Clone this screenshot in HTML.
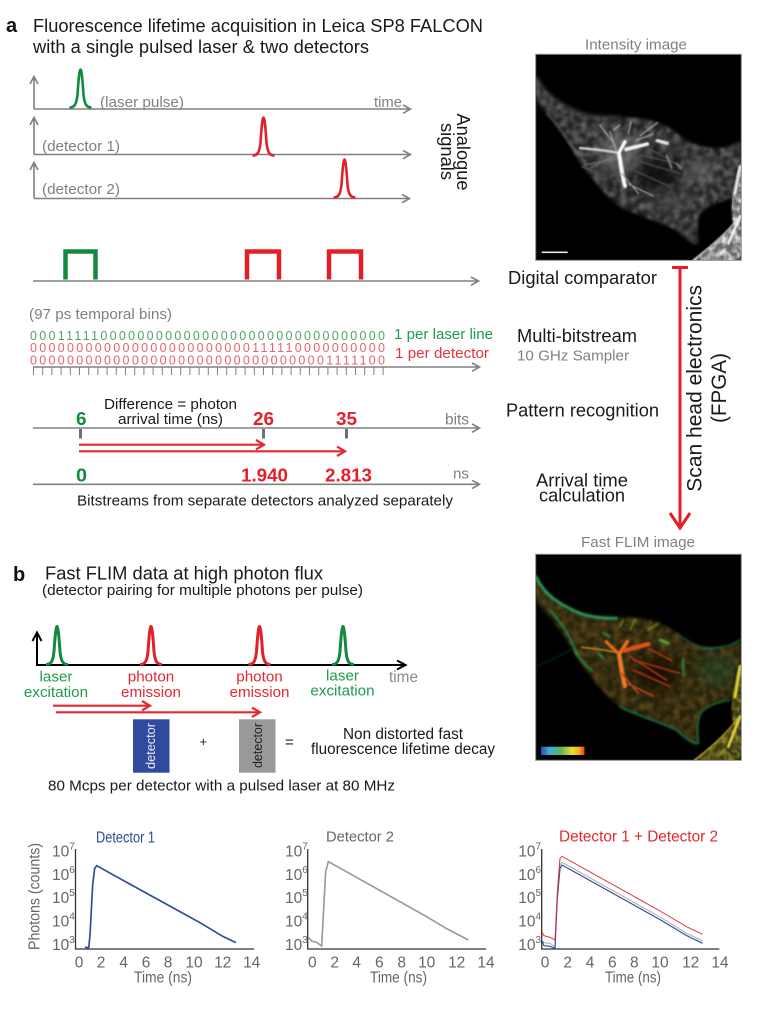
<!DOCTYPE html>
<html>
<head>
<meta charset="utf-8">
<style>
html,body{margin:0;padding:0;background:#fff;}
svg{display:block;}
text{font-family:"Liberation Sans",sans-serif;}
.g{fill:#808080}
.k{fill:#1a1a1a}
.t{fill:#666}
.b{font-weight:bold}
</style>
</head>
<body>
<svg xmlns="http://www.w3.org/2000/svg" width="767" height="1034" viewBox="0 0 767 1034">
<defs>
<filter id="bl1" x="-30%" y="-30%" width="160%" height="160%"><feGaussianBlur stdDeviation="2.6"/></filter>
<filter id="bl3" x="-30%" y="-30%" width="160%" height="160%"><feGaussianBlur stdDeviation="3"/></filter>
<filter id="bl6" x="-20%" y="-20%" width="140%" height="140%"><feGaussianBlur stdDeviation="6"/></filter>
<filter id="bl20" x="-60%" y="-60%" width="220%" height="220%"><feGaussianBlur stdDeviation="20"/></filter>
<filter id="tex" x="0" y="0" width="100%" height="100%">
<feTurbulence type="fractalNoise" baseFrequency="0.05" numOctaves="2" seed="4" result="n"/>
<feColorMatrix in="n" type="matrix" values="0 0 0 0 0 0 0 0 0 0 0 0 0 0 0 2.4 0 0 0 -0.85" result="a"/>
<feComposite in="SourceGraphic" in2="a" operator="in"/>
</filter>
<clipPath id="ca"><rect x="48" y="74" width="615" height="616"/></clipPath>
<path id="cell" d="M48 140 C70 190,110 220,180 250 C230 265,260 262,300 262 C360 262,420 270,470 310 C510 340,540 355,600 355 C630 352,650 340,663 330 L663 390 C640 440,640 480,640 500 C610 515,570 520,545 545 C530 565,530 600,535 640 C520 650,490 620,470 600 C420 575,360 560,300 530 C250 490,210 440,170 380 C140 330,110 280,80 250 C60 230,48 215,48 200 Z"/>
<path id="rc" d="M663 395 L663 690 L520 690 C560 660,610 620,640 585 C630 530,635 470,663 395 Z"/>
<path id="pk" fill="none" d="M-11 0 C-6 0 -4 -3 -3 -13 C-2 -28 -1 -38 0 -38 C1 -38 2 -28 3 -13 C4 -3 6 0 11 0"/>
</defs>

<!-- PANEL A heading -->
<text x="6" y="32" font-size="20" class="b" fill="#111">a</text>
<text x="33" y="32" font-size="18.2" textLength="450" lengthAdjust="spacingAndGlyphs" class="k">Fluorescence lifetime acquisition in Leica SP8 FALCON</text>
<text x="33" y="53" font-size="18.2" textLength="336" lengthAdjust="spacingAndGlyphs" class="k">with a single pulsed laser &amp; two detectors</text>

<!-- analogue axes -->
<g fill="none" stroke="#808080" stroke-width="1.6">
<path d="M34 109 H410 M403 105 L410.5 109 L403 113.3"/>
<path d="M34 109 V77 M30 84 L34 76.5 L38 84"/>
<path d="M34 154.5 H410 M403 150.5 L410.5 154.5 L403 158.8"/>
<path d="M34 154.5 V118 M30 125 L34 117.5 L38 125"/>
<path d="M34 198.5 H409 M402 194.5 L409.5 198.5 L402 202.8"/>
<path d="M34 198.5 V163 M30 170 L34 162.5 L38 170"/>
<path d="M33 281 H478 M471 277 L478.5 281 L471 285.3"/>
</g>
<use href="#pk" transform="translate(80.5,107.5)" stroke="#12893f" stroke-width="2.6"/>
<use href="#pk" transform="translate(263.5,155.5)" stroke="#e3202a" stroke-width="2.6"/>
<use href="#pk" transform="translate(344.5,197.5)" stroke="#e3202a" stroke-width="2.6"/>
<text x="100" y="107" font-size="15.2" textLength="84" lengthAdjust="spacingAndGlyphs" class="g">(laser pulse)</text>
<text x="374" y="107" font-size="15.2" textLength="28" lengthAdjust="spacingAndGlyphs" class="g">time</text>
<text x="42" y="151" font-size="15.2" textLength="78" lengthAdjust="spacingAndGlyphs" class="g">(detector 1)</text>
<text x="42" y="194" font-size="15.2" textLength="78" lengthAdjust="spacingAndGlyphs" class="g">(detector 2)</text>
<text transform="translate(457,113.5) rotate(90)" font-size="18.2" textLength="77" lengthAdjust="spacingAndGlyphs" class="k">Analogue</text>
<text transform="translate(441,123) rotate(90)" font-size="18.2" textLength="57" lengthAdjust="spacingAndGlyphs" class="k">signals</text>

<!-- digital pulses -->
<g fill="none" stroke-width="4.5">
<path d="M65.5 279.5 V251.5 H95.5 V279.5" stroke="#12893f"/>
<path d="M247 279.5 V251.5 H279 V279.5" stroke="#e3202a"/>
<path d="M329 279.5 V251.5 H361 V279.5" stroke="#e3202a"/>
</g>

<!-- bitstreams -->
<text x="29" y="319" font-size="14.5" textLength="143" lengthAdjust="spacingAndGlyphs" class="g">(97 ps temporal bins)</text>
<text x="30" y="340" font-size="12.5" textLength="355" lengthAdjust="spacing" fill="#4ea56c">000111110000000000000000000000000000000</text>
<text x="30" y="352" font-size="12.5" textLength="355" lengthAdjust="spacing" fill="#e4656b">000000000000000000000000111110000000000</text>
<text x="30" y="364.5" font-size="12.5" textLength="355" lengthAdjust="spacing" fill="#e4656b">000000000000000000000000000000001111100</text>
<text x="394" y="339" font-size="15.1" textLength="99" lengthAdjust="spacingAndGlyphs" fill="#1f9a50">1 per laser line</text>
<text x="395" y="358" font-size="15.2" textLength="94" lengthAdjust="spacingAndGlyphs" fill="#e3343c">1 per detector</text>
<path d="M33 367 H479 M472 363 L479.5 367 L472 371.3" fill="none" stroke="#808080" stroke-width="1.6"/>
<path fill="none" stroke="#808080" stroke-width="1" d="M33.5 367V375M42.7 367V375M51.9 367V375M61.1 367V375M70.3 367V375M79.5 367V375M88.7 367V375M97.9 367V375M107.1 367V375M116.3 367V375M125.5 367V375M134.7 367V375M143.9 367V375M153.1 367V375M162.3 367V375M171.5 367V375M180.7 367V375M189.9 367V375M199.1 367V375M208.3 367V375M217.5 367V375M226.7 367V375M235.9 367V375M245.1 367V375M254.3 367V375M263.5 367V375M272.7 367V375M281.9 367V375M291.1 367V375M300.3 367V375M309.5 367V375M318.7 367V375M327.9 367V375M337.1 367V375M346.3 367V375M355.5 367V375M364.7 367V375M373.9 367V375M383.1 367V375"/>

<!-- pattern recognition -->
<text x="104" y="409" font-size="15.2" textLength="133" lengthAdjust="spacingAndGlyphs" class="k">Difference = photon</text>
<text x="118" y="424" font-size="15.2" textLength="105" lengthAdjust="spacingAndGlyphs" class="k">arrival time (ns)</text>
<path d="M33 428 H479 M472 424 L479.5 428 L472 432.3" fill="none" stroke="#808080" stroke-width="1.6"/>
<path d="M80.5 429 V438.5 M263.5 429 V438.5 M346.5 429 V438.5" fill="none" stroke="#707070" stroke-width="3"/>
<text x="76" y="425" font-size="18.8" class="b" fill="#12893f" textLength="10.5" lengthAdjust="spacingAndGlyphs">6</text>
<text x="253" y="425" font-size="18.8" class="b" fill="#e3202a" textLength="21" lengthAdjust="spacingAndGlyphs">26</text>
<text x="336" y="425" font-size="18.8" class="b" fill="#e3202a" textLength="21" lengthAdjust="spacingAndGlyphs">35</text>
<text x="445" y="424.7" font-size="15.3" textLength="24" lengthAdjust="spacingAndGlyphs" class="g">bits</text>
<g fill="none" stroke="#e3282f" stroke-width="2.2">
<path d="M79 444.7 H263 M256 440 L264 444.7 L256 449.4"/>
<path d="M79 451.3 H344 M337 446.6 L345 451.3 L337 456"/>
</g>
<text x="76" y="481.7" font-size="18.8" class="b" fill="#12893f" textLength="11" lengthAdjust="spacingAndGlyphs">0</text>
<text x="241" y="481.7" font-size="18.8" class="b" fill="#e3202a" textLength="47" lengthAdjust="spacingAndGlyphs">1.940</text>
<text x="325" y="481.7" font-size="18.8" class="b" fill="#e3202a" textLength="47" lengthAdjust="spacingAndGlyphs">2.813</text>
<text x="453" y="478.7" font-size="15" textLength="16" lengthAdjust="spacingAndGlyphs" class="g">ns</text>
<path d="M33 484.3 H479 M472 480.3 L479.5 484.3 L472 488.6" fill="none" stroke="#808080" stroke-width="1.6"/>
<text x="77" y="505.7" font-size="15.2" textLength="376" lengthAdjust="spacingAndGlyphs" class="k">Bitstreams from separate detectors analyzed separately</text>

<!-- right labels -->
<text x="508" y="284" font-size="18.3" textLength="149" lengthAdjust="spacingAndGlyphs" class="k">Digital comparator</text>
<text x="517" y="342" font-size="18.3" textLength="120" lengthAdjust="spacingAndGlyphs" class="k">Multi-bitstream</text>
<text x="517" y="360.7" font-size="15.2" textLength="112" lengthAdjust="spacingAndGlyphs" class="g">10 GHz Sampler</text>
<text x="506" y="416.7" font-size="18.3" textLength="153" lengthAdjust="spacingAndGlyphs" class="k">Pattern recognition</text>
<text x="536" y="486.7" font-size="18.3" textLength="92" lengthAdjust="spacingAndGlyphs" class="k">Arrival time</text>
<text x="539" y="501.3" font-size="18.3" textLength="86" lengthAdjust="spacingAndGlyphs" class="k">calculation</text>
<path d="M672 267.5 H688 M680 267.5 V527 M670 513 L680 528 L690 513" fill="none" stroke="#e01f2b" stroke-width="3"/>
<text transform="translate(701.7,491.7) rotate(-90)" font-size="21" textLength="206.7" lengthAdjust="spacingAndGlyphs" class="k">Scan head electronics</text>
<text transform="translate(726,423) rotate(-90)" font-size="21" textLength="70" lengthAdjust="spacingAndGlyphs" class="k">(FPGA)</text>

<!-- intensity image -->
<text x="585" y="49.3" font-size="15.2" textLength="102" lengthAdjust="spacingAndGlyphs" class="g">Intensity image</text>
<rect x="535.7" y="54.3" width="205.6" height="206" fill="#000" stroke="#8a8a8a" stroke-width="1"/>
<g transform="translate(520,30) scale(0.33333)" clip-path="url(#ca)">
 <use href="#cell" fill="#242424" filter="url(#bl6)"/>
 <g filter="url(#bl3)"><use href="#cell" fill="#666" filter="url(#tex)"/></g>
 <ellipse cx="410" cy="430" rx="70" ry="55" fill="#0c0c0c" opacity=".85" filter="url(#bl20)"/>
 <ellipse cx="540" cy="420" rx="45" ry="32" fill="#6a6a6a" opacity=".7" filter="url(#bl20)"/>
 <ellipse cx="450" cy="520" rx="70" ry="30" fill="#484848" opacity=".6" filter="url(#bl20)"/>
 <ellipse cx="300" cy="370" rx="60" ry="60" fill="#8a8a8a" opacity=".5" filter="url(#bl20)"/>
 <path d="M48 140 C70 190,110 220,180 250 C230 265,260 262,300 262" fill="none" stroke="#555" stroke-width="6" filter="url(#bl6)"/>
 <path d="M170 370 C130 310,105 275,80 250" fill="none" stroke="#555" stroke-width="5" filter="url(#bl3)"/>
 <g filter="url(#bl3)"><use href="#rc" fill="#6a6a6a"/></g>
 <use href="#rc" fill="#fff" filter="url(#tex)" opacity=".8"/>
 <g fill="none" stroke-linecap="round" filter="url(#bl1)">
  <path d="M292 368 C250 360,220 358,180 354" stroke-width="7" stroke="#d8d8d8"/>
  <path d="M290 365 L270 305 M285 345 L240 285" stroke-width="4" stroke="#a5a5a5"/>
  <path d="M295 372 L315 335" stroke-width="10" stroke="#fff"/>
  <path d="M318 358 L382 342" stroke-width="11" stroke="#f2f2f2"/>
  <path d="M298 375 C303 410,307 440,315 468" stroke-width="12" stroke="#fafafa"/>
  <path d="M292 372 L215 412 M290 385 L195 405" stroke-width="3" stroke="#777"/>
  <path d="M325 462 L400 498 M305 430 L355 490" stroke-width="4" stroke="#999"/>
  <path d="M325 310 L333 275 M360 318 L412 278 M350 330 L400 312 M280 300 L300 285" stroke-width="4" stroke="#aaa"/>
  <path d="M385 355 L455 392 M340 390 L480 430 M340 420 L450 470 M360 375 L470 400" stroke-width="3.5" stroke="#555"/>
  <path d="M412 332 L442 340" stroke-width="10" stroke="#e4e4e4"/>
  <path d="M440 375 L455 415 M470 400 L482 415" stroke-width="5" stroke="#8a8a8a"/>
  <path d="M150 340 L195 395 M185 410 L215 420" stroke-width="3" stroke="#666"/>
  <path d="M520 690 C560 660,610 620,655 565" stroke-width="4" stroke="#e0e0e0"/>
  <path d="M625 640 L660 560" stroke-width="8" stroke="#f4f4f4"/>
  <path d="M645 490 L660 410" stroke-width="9" stroke="#e6e6e6"/>
 </g>
</g>
<rect x="541.7" y="251.5" width="26" height="1.6" fill="#e8e8e8"/>

<!-- FLIM image -->
<text x="581" y="547" font-size="15.2" textLength="114" lengthAdjust="spacingAndGlyphs" class="g">Fast FLIM image</text>
<rect x="535.7" y="554.3" width="205.6" height="206" fill="#000" stroke="#8a8a8a" stroke-width="1"/>
<g transform="translate(520,530) scale(0.33333)" clip-path="url(#ca)">
 <use href="#cell" fill="#262210" filter="url(#bl6)"/>
 <g filter="url(#bl3)"><use href="#cell" fill="#5c4618" filter="url(#tex)"/></g>
 <ellipse cx="410" cy="430" rx="70" ry="55" fill="#180b03" opacity=".85" filter="url(#bl20)"/>
 <ellipse cx="590" cy="420" rx="55" ry="50" fill="#1d4a2c" opacity=".55" filter="url(#bl20)"/>
 <g fill="none" stroke-linecap="round" filter="url(#bl3)">
  <path d="M48 140 C70 190,110 220,180 250 C215 262,250 265,290 265" stroke="#2aa868" stroke-width="8"/>
  <path d="M90 240 C130 285,150 320,170 370 C185 395,200 410,215 420" stroke="#24985a" stroke-width="5"/>
  <path d="M300 530 C360 560,420 575,470 600 C490 620,520 640,530 640" stroke="#1c8850" stroke-width="4.5"/>
  <path d="M535 640 C530 600,530 565,545 545 C565 525,600 515,630 510" stroke="#1c8e56" stroke-width="4"/>
  <path d="M545 355 C580 358,630 352,660 330" stroke="#1c8052" stroke-width="4"/>
  <path d="M470 310 C510 340,530 350,550 355" stroke="#186c40" stroke-width="3"/>
  <path d="M48 410 C80 395,110 385,150 360" stroke="#124026" stroke-width="3"/>
  <path d="M420 330 L445 340" stroke="#62b83c" stroke-width="8"/>
  <path d="M490 385 L490 440 M235 370 L250 385 M250 310 L270 320" stroke="#2e9c58" stroke-width="5"/>
  <path d="M330 300 L345 270 M385 300 L415 280 M300 290 L310 270" stroke="#8fae2c" stroke-width="4"/>
 </g>
 <g fill="none" stroke-linecap="round" filter="url(#bl1)">
  <path d="M292 368 C250 358,220 356,185 352" stroke="#a98020" stroke-width="5"/>
  <path d="M295 370 L258 335" stroke="#ee6a1a" stroke-width="9"/>
  <path d="M298 372 L322 335" stroke="#f0701c" stroke-width="11"/>
  <path d="M312 362 L385 342" stroke="#e2501c" stroke-width="13"/>
  <path d="M298 375 C303 410,307 440,315 468" stroke="#ee7a20" stroke-width="13"/>
  <path d="M325 462 L400 498 M305 430 L355 490" stroke="#b8481a" stroke-width="5"/>
  <path d="M385 355 L455 392 M340 390 L480 430 M340 420 L450 470 M330 380 L440 450" stroke="#a83412" stroke-width="5"/>
 </g>
 <g filter="url(#bl3)"><use href="#rc" fill="#3e3a12"/></g>
 <use href="#rc" fill="#c9bc30" filter="url(#tex)" opacity=".55"/>
 <g fill="none" stroke-linecap="round" filter="url(#bl1)">
  <path d="M525 690 C565 660,610 620,655 565" stroke="#b8a62a" stroke-width="4"/>
  <path d="M625 650 L660 560" stroke="#e6d640" stroke-width="8"/>
  <path d="M645 500 L660 410" stroke="#d8cc38" stroke-width="10"/>
 </g>
</g>
<linearGradient id="cb" x1="0" x2="1" y1="0" y2="0">
<stop offset="0" stop-color="#2a4fa8"/><stop offset=".2" stop-color="#38b0e0"/><stop offset=".45" stop-color="#57b45a"/><stop offset=".72" stop-color="#e8e02e"/><stop offset=".88" stop-color="#f6a820"/><stop offset="1" stop-color="#e8381c"/>
</linearGradient>
<rect x="541" y="746.7" width="43.5" height="8.3" fill="url(#cb)"/>

<!-- PANEL B -->
<text x="13" y="581" font-size="20" class="b" fill="#111">b</text>
<text x="45" y="579.3" font-size="18.3" textLength="278" lengthAdjust="spacingAndGlyphs" class="k">Fast FLIM data at high photon flux</text>
<text x="42" y="595" font-size="15.2" textLength="321" lengthAdjust="spacingAndGlyphs" class="k">(detector pairing for multiple photons per pulse)</text>
<path d="M36 665 H405 M397 660.5 L405.5 665 L397 669.5 M37 665 V633.5 M32.5 641 L37 632.5 L41.5 641" fill="none" stroke="#000" stroke-width="2"/>
<use href="#pk" transform="translate(57,664.5)" stroke="#12893f" stroke-width="3"/>
<use href="#pk" transform="translate(151,664.5)" stroke="#e3202a" stroke-width="3"/>
<use href="#pk" transform="translate(259.5,664.5)" stroke="#e3202a" stroke-width="3"/>
<use href="#pk" transform="translate(343,664.5)" stroke="#12893f" stroke-width="3"/>
<g font-size="15.2" text-anchor="middle">
<text x="56" y="681.7" fill="#1f9a50">laser</text>
<text x="56" y="697" fill="#1f9a50">excitation</text>
<text x="151" y="681.7" fill="#e3282f">photon</text>
<text x="151" y="697" fill="#e3282f">emission</text>
<text x="259.5" y="681.7" fill="#e3282f">photon</text>
<text x="259.5" y="697" fill="#e3282f">emission</text>
<text x="342.5" y="680.5" fill="#1f9a50">laser</text>
<text x="342.5" y="695.5" fill="#1f9a50">excitation</text>
</g>
<text x="389" y="682" font-size="15.3" textLength="29" lengthAdjust="spacingAndGlyphs" fill="#8a8a8a">time</text>
<g fill="none" stroke="#e3282f" stroke-width="2.2">
<path d="M53 705.7 H149 M142 701 L150 705.7 L142 710.4"/>
<path d="M56 712.3 H259 M252 707.6 L260 712.3 L252 717"/>
</g>
<rect x="133" y="719.3" width="36.5" height="53.4" fill="#2f4a9f"/>
<rect x="239" y="719.3" width="36.5" height="53.4" fill="#999"/>
<text transform="translate(155,769) rotate(-90)" font-size="12.7" textLength="46" lengthAdjust="spacingAndGlyphs" fill="#e8ecf6">detector</text>
<text transform="translate(262,768) rotate(-90)" font-size="12.7" textLength="45" lengthAdjust="spacingAndGlyphs" fill="#222">detector</text>
<text x="199.5" y="746" font-size="13" fill="#222">+</text>
<text x="285" y="747" font-size="15" fill="#222">=</text>
<text x="343" y="739" font-size="15.3" textLength="120" lengthAdjust="spacingAndGlyphs" class="k">Non distorted fast</text>
<text x="311" y="754" font-size="15.3" textLength="184" lengthAdjust="spacingAndGlyphs" class="k">fluorescence lifetime decay</text>
<text x="48" y="790.7" font-size="15.2" textLength="347" lengthAdjust="spacingAndGlyphs" class="k">80 Mcps per detector with a pulsed laser at 80 MHz</text>

<!-- CHART 1 -->
<text x="96" y="842.7" font-size="15.5" textLength="59" lengthAdjust="spacingAndGlyphs" fill="#2f4a9f">Detector 1</text>
<text transform="translate(39.3,950) rotate(-90)" font-size="15.5" textLength="107" lengthAdjust="spacingAndGlyphs" class="t">Photons  (counts)</text>
<path d="M75.5 849 V949 H254" fill="none" stroke="#333" stroke-width="1.3"/>
<g font-size="15.5" class="t">
<text x="52" y="856.7">10<tspan font-size="10" dy="-7">7</tspan></text>
<text x="52" y="880">10<tspan font-size="10" dy="-7">6</tspan></text>
<text x="52" y="903">10<tspan font-size="10" dy="-7">5</tspan></text>
<text x="52" y="926.7">10<tspan font-size="10" dy="-7">4</tspan></text>
<text x="52" y="950">10<tspan font-size="10" dy="-7">3</tspan></text>
</g>
<g font-size="15.5" class="t" text-anchor="middle">
<text x="79" y="967.7">0</text><text x="101" y="967.7">2</text><text x="123.7" y="967.7">4</text><text x="146" y="967.7">6</text><text x="168" y="967.7">8</text><text x="194" y="967.7">10</text><text x="222.7" y="967.7">12</text><text x="251.7" y="967.7">14</text>
</g>
<text x="134" y="982.3" font-size="15.5" textLength="58" lengthAdjust="spacingAndGlyphs" class="t">Time (ns)</text>
<g transform="translate(0,815) scale(0.33333)" fill="none">
<path d="M255 396 L262 398 L266 400 L270 360 L278 210 L284 160 L290 152 L400 213 L520 279 L600 323 L670 365 L708 383" stroke="#2f4a9f" stroke-width="5"/>
</g>

<!-- CHART 2 -->
<text x="326" y="841.7" font-size="15" textLength="68" lengthAdjust="spacingAndGlyphs" class="t">Detector 2</text>
<path d="M307.7 849 V949 H486" fill="none" stroke="#333" stroke-width="1.3"/>
<g font-size="15.5" class="t">
<text x="285" y="856.7">10<tspan font-size="10" dy="-7">7</tspan></text>
<text x="285" y="880">10<tspan font-size="10" dy="-7">6</tspan></text>
<text x="285" y="903">10<tspan font-size="10" dy="-7">5</tspan></text>
<text x="285" y="926.7">10<tspan font-size="10" dy="-7">4</tspan></text>
<text x="285" y="950">10<tspan font-size="10" dy="-7">3</tspan></text>
</g>
<g font-size="15.5" class="t" text-anchor="middle">
<text x="312.3" y="967.7">0</text><text x="334.7" y="967.7">2</text><text x="356.7" y="967.7">4</text><text x="379.3" y="967.7">6</text><text x="401.7" y="967.7">8</text><text x="426.7" y="967.7">10</text><text x="456.7" y="967.7">12</text><text x="486" y="967.7">14</text>
</g>
<text x="370" y="982.3" font-size="15.5" textLength="57" lengthAdjust="spacingAndGlyphs" class="t">Time (ns)</text>
<g transform="translate(260,815) scale(0.33333)" fill="none">
<path d="M146 368 L155 378 L170 382 L185 393 L190 300 L197 170 L205 140 L300 193 L400 249 L500 305 L560 341 L625 375" stroke="#9a9a9a" stroke-width="5"/>
</g>

<!-- CHART 3 -->
<text x="559" y="841.7" font-size="15.3" textLength="159" lengthAdjust="spacingAndGlyphs" fill="#e3282f">Detector 1 + Detector 2</text>
<path d="M541.7 849 V949 H719.3" fill="none" stroke="#333" stroke-width="1.3"/>
<g font-size="15.5" class="t">
<text x="518.3" y="856.7">10<tspan font-size="10" dy="-7">7</tspan></text>
<text x="518.3" y="880">10<tspan font-size="10" dy="-7">6</tspan></text>
<text x="518.3" y="903">10<tspan font-size="10" dy="-7">5</tspan></text>
<text x="518.3" y="926.7">10<tspan font-size="10" dy="-7">4</tspan></text>
<text x="518.3" y="950">10<tspan font-size="10" dy="-7">3</tspan></text>
</g>
<g font-size="15.5" class="t" text-anchor="middle">
<text x="545" y="967.7">0</text><text x="567.7" y="967.7">2</text><text x="590" y="967.7">4</text><text x="612.3" y="967.7">6</text><text x="634.3" y="967.7">8</text><text x="660" y="967.7">10</text><text x="690.7" y="967.7">12</text><text x="720" y="967.7">14</text>
</g>
<text x="605" y="982.3" font-size="15.5" textLength="56" lengthAdjust="spacingAndGlyphs" class="t">Time (ns)</text>
<g transform="translate(510,815) scale(0.33333)" fill="none">
<path d="M95 375 L102 383 L120 385 L135 395 L142 240 L150 150 L156 142 L350 250 L450 306 L530 355 L578 378" stroke="#aaa" stroke-width="3"/>
<path d="M95 375 L102 392 L120 394 L135 400 L142 250 L150 160 L156 150 L350 258 L450 314 L530 362 L578 385" stroke="#2f4a9f" stroke-width="3.5"/>
<path d="M95 350 L102 362 L120 367 L135 375 L142 230 L150 130 L156 124 L350 232 L450 288 L530 335 L578 358" stroke="#e3343c" stroke-width="3"/>
</g>
</svg>
</body>
</html>
